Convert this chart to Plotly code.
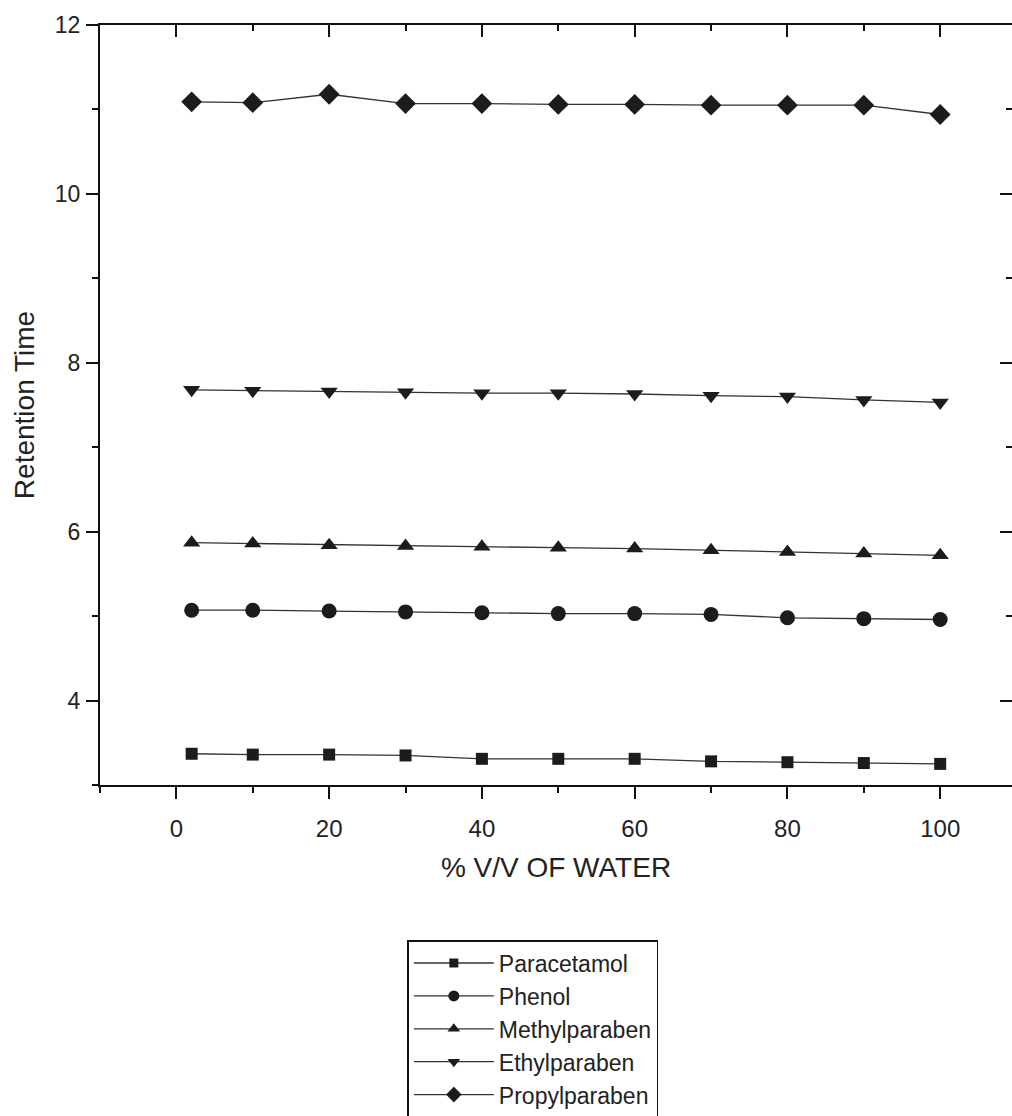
import plotly.graph_objects as go

# Mobile-phase composition (% v/v water) and retention times of each analyte
water_pct = [2, 10, 20, 30, 40, 50, 60, 70, 80, 90, 100]

paracetamol = [3.37, 3.36, 3.36, 3.35, 3.31, 3.31, 3.31, 3.28, 3.27, 3.26, 3.25]
phenol = [5.07, 5.07, 5.06, 5.05, 5.04, 5.03, 5.03, 5.02, 4.98, 4.97, 4.96]
methylparaben = [5.87, 5.86, 5.84, 5.83, 5.82, 5.81, 5.80, 5.78, 5.76, 5.74, 5.72]
ethylparaben = [7.68, 7.67, 7.66, 7.65, 7.64, 7.64, 7.63, 7.61, 7.60, 7.56, 7.53]
propylparaben = [11.09, 11.08, 11.18, 11.07, 11.07, 11.06, 11.06, 11.05, 11.05, 11.05, 10.94]

series_names = ["Paracetamol", "Phenol", "Methylparaben", "Ethylparaben", "Propylparaben"]
series_values = [paracetamol, phenol, methylparaben, ethylparaben, propylparaben]
series_symbols = ["square", "circle", "triangle-up", "triangle-down", "diamond"]
series_sizes = [12, 15, 15, 15, 16]
legend_sizes = [9, 11, 11, 11, 12]

y_tick_vals = [4, 6, 8, 10, 12]
x_tick_vals = [0, 20, 40, 60, 80, 100]

INK = "#1c1c1c"
LINE = "#333333"
FONT = "Liberation Sans, Arial, sans-serif"

fig = go.Figure()

for name, vals, sym, size in zip(series_names, series_values, series_symbols, series_sizes):
    fig.add_trace(go.Scatter(
        x=water_pct, y=vals, name=name, mode="lines+markers",
        line=dict(color=LINE, width=1.3),
        marker=dict(symbol=sym, size=size, color=INK, line=dict(width=0)),
        showlegend=False,
    ))

# legend entries use smaller glyphs than the plotted markers
for name, sym, size in zip(series_names, series_symbols, legend_sizes):
    fig.add_trace(go.Scatter(
        x=[None], y=[None], name=name, mode="lines+markers",
        line=dict(color=LINE, width=1.3),
        marker=dict(symbol=sym, size=size, color=INK, line=dict(width=0)),
        hoverinfo="skip",
    ))

# empty trace that brings the mirrored top/right axes into existence
fig.add_trace(go.Scatter(x=[None], y=[None], xaxis="x2", yaxis="y2",
                         showlegend=False, hoverinfo="skip"))

x_range = [-10, 109.4]
y_range = [3, 12]

axis_common = dict(showgrid=False, zeroline=False, linecolor="#111111", linewidth=2,
                   tickcolor="#111111", tickwidth=2)

fig.update_layout(
    width=1012, height=1116,
    margin=dict(l=100, r=0, t=25, b=331, autoexpand=False),
    paper_bgcolor="white", plot_bgcolor="white",
    font=dict(family=FONT, color="#222222", size=22),
    xaxis=dict(
        range=x_range, tickmode="array", tickvals=x_tick_vals,
        ticks="outside", ticklen=12, showline=True,
        minor=dict(tickvals=[-10, 10, 30, 50, 70, 90], ticks="outside", ticklen=6,
                   tickwidth=2, tickcolor="#111111"),
        tickfont=dict(size=24), ticklabelstandoff=9,
        title=dict(text="% V/V OF WATER", font=dict(size=28), standoff=17),
        **axis_common,
    ),
    yaxis=dict(
        range=y_range, tickmode="array", tickvals=y_tick_vals,
        ticks="outside", ticklen=12, showline=True,
        minor=dict(tickvals=[3, 5, 7, 9, 11], ticks="outside", ticklen=6,
                   tickwidth=2, tickcolor="#111111"),
        tickfont=dict(size=23), ticklabelstandoff=1,
        title=dict(text="Retention Time", font=dict(size=28), standoff=12),
        **axis_common,
    ),
    xaxis2=dict(
        range=x_range, overlaying="x", side="top", anchor="y2",
        tickmode="array", tickvals=x_tick_vals, ticks="inside", ticklen=12,
        showticklabels=False, showline=True,
        minor=dict(tickvals=[10, 30, 50, 70, 90], ticks="inside", ticklen=6,
                   tickwidth=2, tickcolor="#111111"),
        **axis_common,
    ),
    yaxis2=dict(
        range=y_range, overlaying="y", side="right", anchor="x2",
        tickmode="array", tickvals=y_tick_vals, ticks="inside", ticklen=12,
        showticklabels=False, showline=False,
        minor=dict(tickvals=[5, 7, 9, 11], ticks="inside", ticklen=6,
                   tickwidth=2, tickcolor="#111111"),
        **axis_common,
    ),
    legend=dict(
        x=0.337, y=-0.204, xanchor="left", yanchor="top",
        bgcolor="white", bordercolor="#111111", borderwidth=1.5,
        font=dict(family=FONT, size=23, color="#222222"),
        traceorder="normal", itemwidth=80,
    ),
    showlegend=True,
)

fig.write_html("out.html")
